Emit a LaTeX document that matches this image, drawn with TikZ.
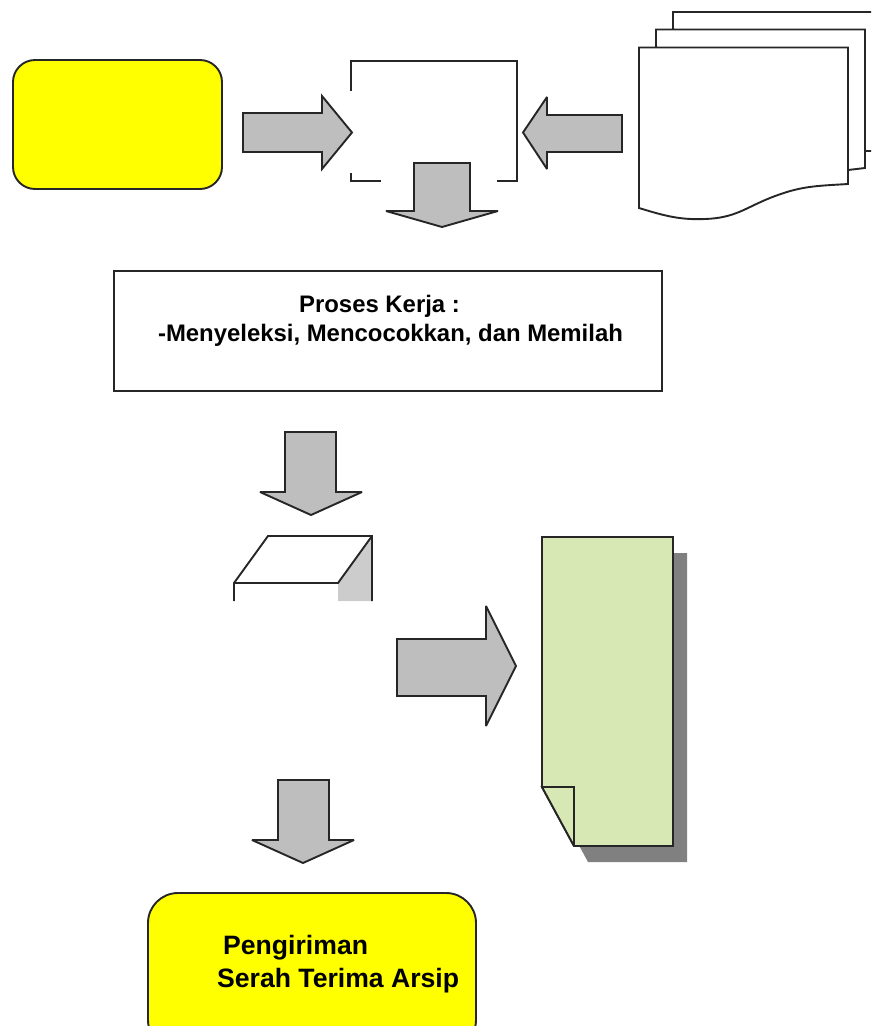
\documentclass[tikz,border=0pt]{standalone}
\usepackage{fontspec}
\setmainfont{Liberation Sans}
\definecolor{arrowgrey}{HTML}{BEBEBE}
\definecolor{notegreen}{HTML}{D8E8B4}
\definecolor{shadowgrey}{HTML}{808080}
\definecolor{sidegrey}{HTML}{CCCCCC}
\definecolor{termyellow}{RGB}{255,255,0}
\tikzset{
  ink/.style={draw=black!85,line width=1.9pt,line join=miter,miter limit=3},
  fatarrow/.style={ink,fill=arrowgrey},
  termbox/.style={ink,fill=termyellow,rounded corners=22pt},
  sheet/.style={ink,fill=white},
  label/.style={font=\bfseries,anchor=base west,inner sep=0pt}
}
\begin{document}
\begin{tikzpicture}[x=1pt,y=-1pt]
\useasboundingbox (0,0) rectangle (871,1026);
\clip (0,0) rectangle (871,1026);
% start terminator
\draw[termbox] (13,60) rectangle (222,189);
% open box
\draw[ink] (351,91) -- (351,60.8) -- (517,60.8) -- (517,181.2) -- (497,181.2);
\draw[ink] (351,173) -- (351,181.2) -- (381,181.2);
% arrows
\draw[fatarrow] (243,113) -- (322,113) -- (322,96) -- (352,132.5) -- (322,169) -- (322,152) -- (243,152) -- cycle;
\draw[fatarrow] (622,115) -- (547,115) -- (547,97) -- (523,132.5) -- (547,169) -- (547,152) -- (622,152) -- cycle;
\draw[fatarrow] (414,163) -- (470,163) -- (470,211) -- (498,211) -- (442,227) -- (386,211) -- (414,211) -- cycle;
% document stack
\draw[sheet] (673,29) -- (673,12) -- (880,12) -- (880,151) -- (865,151) -- cycle;
\draw[sheet] (656,47) -- (656,29.5) -- (865,29.5) -- (865,168) -- (848,170) -- cycle;
\draw[sheet] (639,47.5) -- (848,47.5) -- (848,184) .. controls (815,186) and (800,186) .. (770,198) .. controls (745,208) and (735,218) .. (705,219) .. controls (680,220) and (665,216) .. (639,208) -- cycle;
% process box
\node[ink,fill=white,minimum width=548pt,minimum height=120pt,anchor=north west,inner sep=0pt] (proses) at (113,270.2) {};
\node[label,font=\bfseries\fontsize{23.9}{28}\selectfont,anchor=base] (proseslabel) at (379.5,312) {Proses Kerja :};
\node[label,font=\bfseries\fontsize{23.9}{28}\selectfont,anchor=base] (proseslabelb) at (390.5,341) {-Menyeleksi, Mencocokkan, dan Memilah};
% arrow 2
\draw[fatarrow] (285,432) -- (336,432) -- (336,492) -- (362,492) -- (311,515) -- (260,492) -- (285,492) -- cycle;
% cube top
\fill[sidegrey] (338,583) -- (372,536) -- (372,601) -- (338,601) -- cycle;
\draw[ink] (234,601) -- (234,583) -- (268,536) -- (372,536) -- (372,601);
\draw[ink] (234,583) -- (338,583) -- (372,536);
% big arrow
\draw[fatarrow] (397,639) -- (486,639) -- (486,606) -- (516,666) -- (486,726) -- (486,696) -- (397,696) -- cycle;
% note
\fill[shadowgrey] (556,553) -- (687,553) -- (687,862) -- (588,862) -- (556,803) -- cycle;
\draw[ink,fill=notegreen] (542,537) -- (673,537) -- (673,846) -- (574,846) -- (542,787) -- cycle;
\draw[ink,fill=notegreen] (542,787) -- (574,787) -- (574,846) -- cycle;
% arrow 3
\draw[fatarrow] (278,780) -- (329,780) -- (329,840) -- (354,840) -- (303,863) -- (252,840) -- (278,840) -- cycle;
% end terminator
\draw[termbox,rounded corners=30pt] (148,893) rectangle (476,1050);
\node[label,font=\bfseries\fontsize{26.6}{31}\selectfont] (kirim) at (223,954) {Pengiriman};
\node[label,font=\bfseries\fontsize{26.6}{31}\selectfont] (serah) at (217,987) {Serah Terima Arsip};
\end{tikzpicture}
\end{document}
